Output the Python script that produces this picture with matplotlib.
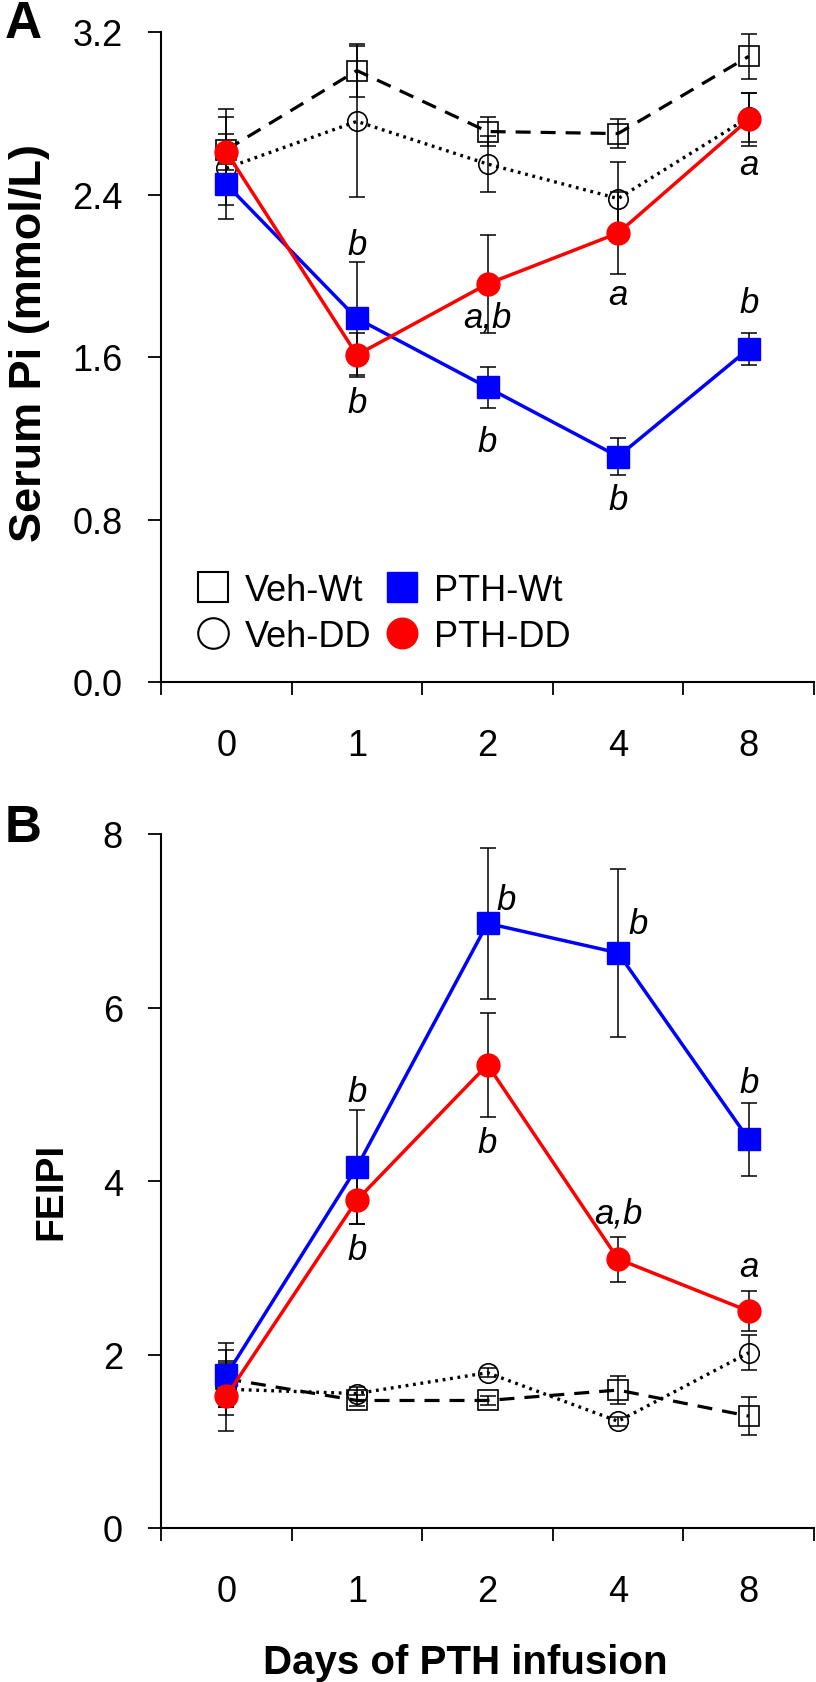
import matplotlib
matplotlib.use("Agg")
import matplotlib.pyplot as plt
from matplotlib.lines import Line2D
import numpy as np

plt.rcParams['font.family'] = ['Liberation Sans', 'DejaVu Sans']
plt.rcParams['lines.scale_dashes'] = False

days = ['0', '1', '2', '4', '8']

# Panel A: Serum Pi (mmol/L)
veh_wt_A = [2.62, 3.01, 2.71, 2.70, 3.08]
veh_wt_A_err = [0.20, 0.13, 0.07, 0.07, 0.11]
veh_dd_A = [2.53, 2.76, 2.55, 2.38, 2.78]
veh_dd_A_err = [0.25, 0.37, 0.14, 0.18, 0.12]
pth_wt_A = [2.45, 1.79, 1.45, 1.11, 1.64]
pth_wt_A_err = [0.10, 0.28, 0.10, 0.09, 0.08]
pth_dd_A = [2.61, 1.61, 1.96, 2.21, 2.77]
pth_dd_A_err = [0.09, 0.11, 0.24, 0.20, 0.13]

# Panel B: FEIPI
veh_wt_B = [1.72, 1.47, 1.47, 1.59, 1.29]
veh_wt_B_err = [0.33, 0.06, 0.05, 0.16, 0.22]
veh_dd_B = [1.60, 1.55, 1.79, 1.23, 2.02]
veh_dd_B_err = [0.30, 0.07, 0.05, 0.05, 0.20]
pth_wt_B = [1.76, 4.16, 6.97, 6.63, 4.48]
pth_wt_B_err = [0.37, 0.66, 0.87, 0.97, 0.42]
pth_dd_B = [1.52, 3.78, 5.34, 3.10, 2.50]
pth_dd_B_err = [0.40, 0.28, 0.60, 0.26, 0.23]

# significance letters: (x index, y value, text, ha)
annot_A = [(1, 2.107, 'b', 'center'), (1, 1.329, 'b', 'center'),
           (2, 1.748, 'a,b', 'center'), (2, 1.137, 'b', 'center'),
           (3, 1.861, 'a', 'center'), (3, 0.852, 'b', 'center'),
           (4, 1.822, 'b', 'center'), (4, 2.501, 'a', 'center')]
annot_B = [(1, 4.92, 'b', 'center'), (1, 3.10, 'b', 'center'),
           (2.07, 7.14, 'b', 'left'), (2, 4.34, 'b', 'center'),
           (3.08, 6.86, 'b', 'left'), (3, 3.52, 'a,b', 'center'),
           (4, 5.03, 'b', 'center'), (4, 2.91, 'a', 'center')]

yticks_A = [0.0, 0.8, 1.6, 2.4, 3.2]
yticks_B = [0, 2, 4, 6, 8]

W, H = 816, 1683
fig = plt.figure(figsize=(W / 100, H / 100), dpi=100)

def px_rect(left, top, right, bottom):
    return [left / W, 1 - bottom / H, (right - left) / W, (bottom - top) / H]

axA = fig.add_axes(px_rect(161, 33, 814, 683))
axB = fig.add_axes(px_rect(161, 835, 814, 1529))

BLUE = '#0000ff'
RED = '#ff0000'
x = np.arange(len(days))

def draw(ax, vw, vwe, vd, vde, pw, pwe, pd, pde, annots, yticks, ylim, fmt):
    ekw = dict(fmt='none', ecolor='black', elinewidth=1.1, capsize=6, capthick=1.1, zorder=2)
    for y, e in [(vw, vwe), (vd, vde), (pw, pwe), (pd, pde)]:
        ax.errorbar(x, y, yerr=e, **ekw)
    ax.plot(x, vw, color='black', lw=2.3, dashes=(10.8, 7.2), marker='s', ms=14,
            mfc='none', mec='black', mew=1.2, zorder=3)
    ax.plot(x, vd, color='black', lw=2.4, dashes=(2.0, 3.4), marker='o', ms=14,
            mfc='none', mec='black', mew=1.2, zorder=3)
    ax.plot(x, pw, color=BLUE, lw=2.5, marker='s', ms=16.5, mfc=BLUE, mec=BLUE, zorder=4)
    ax.plot(x, pd, color=RED, lw=2.5, marker='o', ms=16.5, mfc=RED, mec=RED, zorder=5)
    for xi, yi, t, ha in annots:
        ax.text(xi, yi, t, style='italic', fontsize=25, ha=ha, va='baseline', zorder=6)
    ax.set_xlim(-0.5, len(days) - 0.5)
    ax.set_ylim(*ylim)
    ax.set_yticks(yticks)
    ax.set_yticklabels([fmt.format(v) for v in yticks])
    ax.set_xticks(x)
    ax.set_xticklabels(days)
    ax.set_xticks(np.arange(-0.5, len(days), 1.0), minor=True)
    for s in ['top', 'right']:
        ax.spines[s].set_visible(False)
    for s in ['left', 'bottom']:
        ax.spines[s].set_linewidth(1.5)
    ax.tick_params(axis='x', which='major', length=0, pad=33, labelsize=26)
    ax.tick_params(axis='x', which='minor', length=9, width=1.3, direction='out')
    ax.tick_params(axis='y', which='major', length=9.4, width=1.3, pad=18, labelsize=26)
    ax.patch.set_visible(False)

draw(axA, veh_wt_A, veh_wt_A_err, veh_dd_A, veh_dd_A_err, pth_wt_A, pth_wt_A_err,
     pth_dd_A, pth_dd_A_err, annot_A, yticks_A, (0, 3.2), '{:.1f}')
draw(axB, veh_wt_B, veh_wt_B_err, veh_dd_B, veh_dd_B_err, pth_wt_B, pth_wt_B_err,
     pth_dd_B, pth_dd_B_err, annot_B, yticks_B, (0, 8), '{:.0f}')

handles = [
    Line2D([], [], ls='none', marker='s', ms=22, mfc='none', mec='black', mew=1.5),
    Line2D([], [], ls='none', marker='o', ms=22, mfc='none', mec='black', mew=1.5),
    Line2D([], [], ls='none', marker='s', ms=22, mfc=BLUE, mec=BLUE),
    Line2D([], [], ls='none', marker='o', ms=22, mfc=RED, mec=RED),
]
labels = ['Veh-Wt', 'Veh-DD', 'PTH-Wt', 'PTH-DD']
axA.legend(handles, labels, ncol=2, frameon=False, fontsize=26, loc='upper left',
           bbox_to_anchor=(0.052, 0.168), borderpad=0, borderaxespad=0,
           handlelength=1.0, handletextpad=0.39, columnspacing=0.33, labelspacing=0.3)

fig.text(30 / W, 1 - 343 / H, 'Serum Pi (mmol/L)', rotation=90, ha='center', va='center',
         fontsize=32.5, fontweight='bold')
fig.text(51 / W, 1 - 1191 / H, 'FEIPI', rotation=90, ha='center', va='center',
         fontsize=28, fontweight='bold')
fig.text(465 / W, 1 - 1674 / H, 'Days of PTH infusion', ha='center', va='baseline',
         fontsize=29, fontweight='bold')
fig.text(5 / W, 1 - 38 / H, 'A', ha='left', va='baseline', fontsize=37, fontweight='bold')
fig.text(5 / W, 1 - 842 / H, 'B', ha='left', va='baseline', fontsize=37, fontweight='bold')

fig.savefig('out.png', dpi=100)
